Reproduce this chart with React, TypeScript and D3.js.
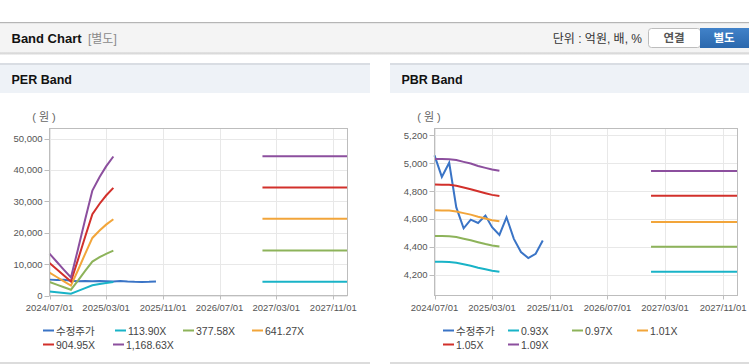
import React from 'react'
import * as d3 from 'd3'

// ---- data ----
const bandMonths = ['2024-07-01', '2024-08-01', '2024-09-01', '2024-10-01', '2024-11-01', '2024-12-01', '2025-01-01', '2025-02-01', '2025-03-01', '2025-04-01']
const priceMonths = ['2024-07-01', '2024-08-01', '2024-09-01', '2024-10-01', '2024-11-01', '2024-12-01', '2025-01-01', '2025-02-01', '2025-03-01', '2025-04-01', '2025-05-01', '2025-06-01', '2025-07-01', '2025-08-01', '2025-09-01', '2025-10-01']
const forwardSpan = ['2027-01-01', '2028-01-01']
const xTickLabels = ['2024/07/01', '2025/03/01', '2025/11/01', '2026/07/01', '2027/03/01', '2027/11/01']

// 수정주가
const price = [5057, 4902, 5004, 4683, 4533, 4595, 4571, 4624, 4541, 4486, 4612, 4457, 4362, 4319, 4350, 4445]

const perLabels = ['113.90X', '377.58X', '641.27X', '904.95X', '1,168.63X']
const perBands = [
  [1298, 1048, 797, 558, 1458, 2358, 3258, 3679, 4009, 4317],
  [4304, 3474, 2643, 1850, 4833, 7816, 10799, 12196, 13291, 14310],
  [7310, 5900, 4489, 3142, 8208, 13274, 18340, 20713, 22573, 24304],
  [10316, 8326, 6335, 4434, 11583, 18732, 25882, 29230, 31854, 34298],
  [13322, 10751, 8180, 5726, 14958, 24191, 33423, 37747, 41136, 44291],
]
const perForward = [4400, 14350, 24450, 34400, 44350]
const perTicks = [0, 10000, 20000, 30000, 40000, 50000]

const pbrLabels = ['0.93X', '0.97X', '1.01X', '1.05X', '1.09X']
const pbrBands = [
  [4293, 4292, 4291, 4285, 4274, 4264, 4250, 4238, 4228, 4220],
  [4478, 4477, 4476, 4470, 4458, 4447, 4433, 4420, 4410, 4402],
  [4662, 4661, 4660, 4654, 4642, 4631, 4616, 4603, 4591, 4583],
  [4847, 4846, 4845, 4838, 4826, 4814, 4799, 4785, 4773, 4765],
  [5031, 5030, 5029, 5023, 5010, 4998, 4981, 4967, 4955, 4946],
]
const pbrForward = [4221, 4400, 4579, 4766, 4945]
const pbrTicks = [4200, 4400, 4600, 4800, 5000, 5200]

const priceColor = '#3a74c6'
const bandColors = ['#19b3c7', '#8db35a', '#f2a53a', '#d2302b', '#8c4f9e']

const NUM_FONT = '"Liberation Sans", Arial, sans-serif'
const KR_FONT = '"Liberation Sans", "Noto Sans CJK KR", sans-serif'

const parse = d3.timeParse('%Y-%m-%d')

interface PanelProps {
  title: string
  left: number
  width: number
  plotLeft: number
  plotRight: number
  yDomain: [number, number]
  yTicks: number[]
  bands: number[][]
  forward: number[]
  labels: string[]
  legendX: number[][]
}

const Panel: React.FC<PanelProps> = (p) => {
  const top = 128.5
  const bottom = 295.5
  const x = d3.scaleTime()
    .domain([parse('2024-07-01') as Date, parse('2028-01-01') as Date])
    .range([p.plotLeft, p.plotRight])
  const y = d3.scaleLinear().domain(p.yDomain).range([bottom, top])
  const fmt = d3.format(',')
  const xTickDates = xTickLabels.map(s => parse(s.replace(/\//g, '-')) as Date)

  const line = d3.line<[Date, number]>()
    .x(d => x(d[0]))
    .y(d => y(d[1]))

  const bandDates = bandMonths.map(s => parse(s) as Date)
  const priceDates = priceMonths.map(s => parse(s) as Date)
  const fwdDates = forwardSpan.map(s => parse(s) as Date)

  const legendItems = [{ label: '수정주가', color: priceColor }]
    .concat(p.labels.map((l, i) => ({ label: l, color: bandColors[i] })))
  const rows = [legendItems.slice(0, 4), legendItems.slice(4)]

  return (
    <g>
      {/* header */}
      <rect x={p.left} y={63} width={p.width} height={2} fill="#d9dde3" />
      <rect x={p.left} y={65} width={p.width} height={28} fill="#eef2f7" />
      <text x={p.left + 11.5} y={84} fontFamily={NUM_FONT} fontWeight="bold" fontSize={12.5} fill="#111">{p.title}</text>
      <rect x={p.left} y={362} width={p.width} height={2} fill="#dcdcdc" />

      {/* unit */}
      <text x={p.plotLeft - 5.5} y={121} textAnchor="middle" fontFamily={KR_FONT} fontSize={11} fill="#666">( 원 )</text>

      {/* grid */}
      {p.yTicks.map(t => (
        <line key={'gy' + t} x1={p.plotLeft} x2={p.plotRight} y1={Math.round(y(t)) + 0.5} y2={Math.round(y(t)) + 0.5} stroke="#e8e8e8" />
      ))}
      {xTickDates.map((d, i) => (
        <line key={'gx' + i} x1={Math.round(x(d)) + 0.5} x2={Math.round(x(d)) + 0.5} y1={top} y2={bottom} stroke="#e8e8e8" />
      ))}

      {/* lines */}
      <path d={line(priceDates.map((d, i) => [d, price[i]] as [Date, number])) || ''} fill="none" stroke={priceColor} strokeWidth={2} />
      {p.bands.map((s, bi) => (
        <path key={'b' + bi} d={line(bandDates.map((d, i) => [d, s[i]] as [Date, number])) || ''} fill="none" stroke={bandColors[bi]} strokeWidth={2} />
      ))}
      {p.forward.map((v, bi) => (
        <path key={'f' + bi} d={line(fwdDates.map(d => [d, v] as [Date, number])) || ''} fill="none" stroke={bandColors[bi]} strokeWidth={2} />
      ))}

      {/* frame */}
      <rect x={p.plotLeft} y={top} width={p.plotRight - p.plotLeft} height={bottom - top} fill="none" stroke="#bdbdbd" />

      {/* y axis */}
      {p.yTicks.map(t => (
        <g key={'ty' + t}>
          <line x1={p.plotLeft - 5} x2={p.plotLeft} y1={Math.round(y(t)) + 0.5} y2={Math.round(y(t)) + 0.5} stroke="#bdbdbd" />
          <text x={p.plotLeft - 7} y={y(t) + 3.5} textAnchor="end" fontFamily={NUM_FONT} fontSize={9.5} fill="#555">{fmt(t)}</text>
        </g>
      ))}

      {/* x axis */}
      {xTickDates.map((d, i) => (
        <g key={'tx' + i}>
          <line x1={Math.round(x(d)) + 0.5} x2={Math.round(x(d)) + 0.5} y1={bottom} y2={bottom + 4} stroke="#bdbdbd" />
          <text x={x(d)} y={311} textAnchor="middle" fontFamily={NUM_FONT} fontSize={9.5} fill="#555">{xTickLabels[i]}</text>
        </g>
      ))}

      {/* legend */}
      {rows.map((row, ri) => row.map((it, ii) => {
        const lx = p.legendX[ri][ii]
        const ly = ri === 0 ? 330.5 : 344.5
        return (
          <g key={'lg' + ri + ii}>
            <rect x={lx} y={ly - 1} width={11} height={2} fill={it.color} />
            <text x={lx + 13} y={ly + 4} fontFamily={KR_FONT} fontSize={10.5} fill="#444">{it.label}</text>
          </g>
        )
      }))}
    </g>
  )
}

const App: React.FC = () => {
  return (
    <svg width={749} height={364} style={{ position: 'absolute', left: 0, top: 0, background: '#fff' }}>
      <defs>
        <linearGradient id="btnBlue" x1="0" y1="0" x2="0" y2="1">
          <stop offset="0" stopColor="#4182c9" />
          <stop offset="1" stopColor="#2b68ad" />
        </linearGradient>
        <linearGradient id="hdrShadow" x1="0" y1="0" x2="0" y2="1">
          <stop offset="0" stopColor="#c8c8c8" />
          <stop offset="1" stopColor="#ffffff" />
        </linearGradient>
      </defs>

      {/* top bar */}
      <rect x={0} y={22} width={749} height={1.5} fill="#b5b5b5" />
      <rect x={0} y={23.5} width={749} height={29} fill="#f4f4f4" />
      <rect x={0} y={52.5} width={749} height={3} fill="url(#hdrShadow)" />
      <text x={11.5} y={43} fontFamily={NUM_FONT} fontWeight="bold" fontSize={13} fill="#111">Band Chart</text>
      <text x={88} y={43} fontFamily={KR_FONT} fontSize={12} fill="#8a8a8a">[별도]</text>
      <text x={642} y={43} textAnchor="end" fontFamily={KR_FONT} fontSize={12} fill="#333">단위 : 억원, 배, %</text>
      <rect x={648.5} y={28.5} width={52} height={19} rx={3} fill="#fff" stroke="#bdbdbd" />
      <text x={674} y={42} textAnchor="middle" fontFamily={KR_FONT} fontWeight="bold" fontSize={11.5} fill="#555">연결</text>
      <rect x={700} y={28} width={49} height={20} fill="url(#btnBlue)" />
      <text x={724} y={42} textAnchor="middle" fontFamily={KR_FONT} fontWeight="bold" fontSize={11.5} fill="#fff">별도</text>

      <Panel
        title="PER Band"
        left={0}
        width={370}
        plotLeft={49.5}
        plotRight={347.5}
        yDomain={[0, 53200]}
        yTicks={perTicks}
        bands={perBands}
        forward={perForward}
        labels={perLabels}
        legendX={[[43, 115, 183, 252], [43, 113]]}
      />
      <Panel
        title="PBR Band"
        left={390}
        width={359}
        plotLeft={434.5}
        plotRight={737.5}
        yDomain={[4050, 5250]}
        yTicks={pbrTicks}
        bands={pbrBands}
        forward={pbrForward}
        labels={pbrLabels}
        legendX={[[443, 508, 572, 637], [443, 508]]}
      />
    </svg>
  )
}

export default App
